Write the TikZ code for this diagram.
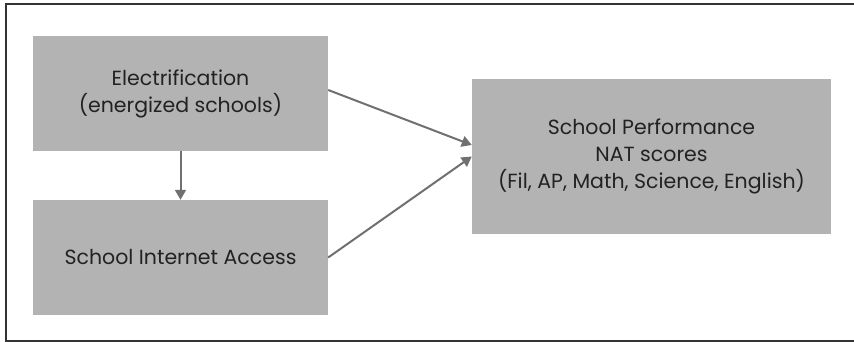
\documentclass[tikz,border=0pt]{standalone}
\usepackage{fontspec}
\setmainfont{Poppins}
\usetikzlibrary{arrows.meta,calc}
\definecolor{boxgray}{HTML}{B3B3B3}
\definecolor{arrowgray}{HTML}{707070}
\definecolor{textdark}{HTML}{222222}
\definecolor{framecol}{HTML}{333333}
\begin{document}
\begin{tikzpicture}[x=1pt,y=-1pt,
  box/.style={fill=boxgray, draw=none, inner sep=0pt, align=center,
    font=\fontsize{20.5}{27}\selectfont, text=textdark},
  conn/.style={draw=arrowgray, line width=2pt, -{Triangle[length=10pt,width=11pt]}}]
\useasboundingbox (0,0) rectangle (854,342);
\draw[framecol, line width=2pt] (856,4.5) -- (5.8,4.5) -- (5.8,340.5) -- (856,340.5);
\node[box, minimum width=295pt, minimum height=115pt] (e) at (180.5,93.5) {Electrification\\(energized schools)};
\node[box, minimum width=295pt, minimum height=115pt] (i) at (180.5,257.5) {School Internet Access};
\node[box, minimum width=359pt, minimum height=155pt] (p) at (651.5,156.5) {School Performance\\NAT scores\\(Fil, AP, Math, Science, English)};
\draw[conn] ($(e.east)+(0,-3.5)$) -- ($(p.west)+(0,-11.5)$);
\draw[conn] (i.east) -- (p.west);
\draw[conn] (e.south) -- (i.north);
\end{tikzpicture}
\end{document}
